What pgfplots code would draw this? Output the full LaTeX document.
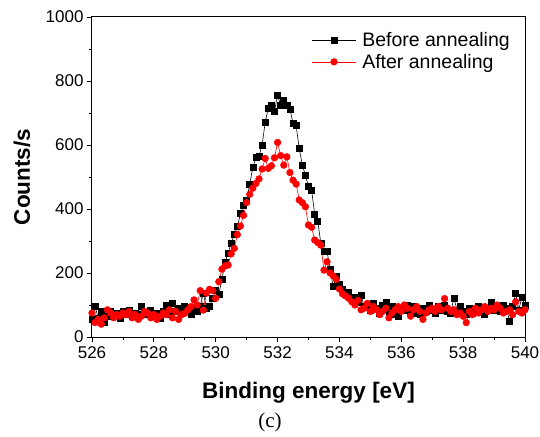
\documentclass[border=0pt]{standalone}
\usepackage{pgfplots}
\pgfplotsset{compat=1.18}
\usepackage{pgfplotstable}
\usepackage{fontspec}
\setmainfont{Liberation Sans}
\newfontfamily\serif{Liberation Serif}
\definecolor{dotred}{HTML}{FF0000}

% XPS O1s counts, before annealing
\pgfplotstableread{
E C
526.0 55
526.1 95
526.2 60
526.3 80
526.4 45
526.5 65
526.6 80
526.7 70
526.8 75
526.9 60
527.0 80
527.1 70
527.2 85
527.3 65
527.4 75
527.5 70
527.6 95
527.7 75
527.8 70
527.9 85
528.0 65
528.1 75
528.2 60
528.3 80
528.4 100
528.5 70
528.6 105
528.7 80
528.8 90
528.9 75
529.0 95
529.1 85
529.2 70
529.3 90
529.4 80
529.5 97
529.6 137
529.7 90
529.8 95
529.9 120
530.0 145
530.1 134
530.2 180
530.3 232
530.4 263
530.5 293
530.6 320
530.7 345
530.8 385
530.9 410
531.0 428
531.1 477
531.2 530
531.3 560
531.4 566
531.5 600
531.6 671
531.7 715
531.8 723
531.9 706
532.0 756
532.1 723
532.2 740
532.3 723
532.4 712
532.5 668
532.6 660
532.7 590
532.8 537
532.9 506
533.0 470
533.1 459
533.2 384
533.3 360
533.4 293
533.5 267
533.6 267
533.7 211
533.8 157
533.9 191
534.0 165
534.1 150
534.2 135
534.3 140
534.4 120
534.5 125
534.6 110
534.7 130
534.8 95
534.9 100
535.0 85
535.1 105
535.2 90
535.3 75
535.4 100
535.5 110
535.6 80
535.7 95
535.8 70
535.9 65
536.0 90
536.1 85
536.2 100
536.3 80
536.4 95
536.5 75
536.6 70
536.7 90
536.8 80
536.9 100
537.0 85
537.1 75
537.2 95
537.3 85
537.4 100
537.5 80
537.6 75
537.7 122
537.8 85
537.9 95
538.0 80
538.1 70
538.2 90
538.3 75
538.4 85
538.5 95
538.6 80
538.7 70
538.8 90
538.9 110
539.0 85
539.1 95
539.2 80
539.3 100
539.4 90
539.5 50
539.6 95
539.7 137
539.8 85
539.9 125
540.0 100
}\before

% after annealing
\pgfplotstableread{
E C
526.0 75
526.1 45
526.2 55
526.3 40
526.4 60
526.5 85
526.6 75
526.7 60
526.8 70
526.9 65
527.0 75
527.1 70
527.2 80
527.3 60
527.4 70
527.5 55
527.6 65
527.7 80
527.8 75
527.9 60
528.0 70
528.1 55
528.2 65
528.3 75
528.4 70
528.5 85
528.6 60
528.7 80
528.8 55
528.9 70
529.0 74
529.1 85
529.2 95
529.3 116
529.4 100
529.5 145
529.6 84
529.7 137
529.8 149
529.9 145
530.0 121
530.1 173
530.2 212
530.3 222
530.4 225
530.5 260
530.6 277
530.7 320
530.8 347
530.9 380
531.0 420
531.1 446
531.2 465
531.3 480
531.4 494
531.5 525
531.6 558
531.7 527
531.8 535
531.9 560
532.0 608
532.1 567
532.2 537
532.3 563
532.4 514
532.5 490
532.6 478
532.7 428
532.8 420
532.9 407
533.0 350
533.1 343
533.2 303
533.3 295
533.4 287
533.5 209
533.6 235
533.7 200
533.8 191
533.9 180
534.0 150
534.1 135
534.2 128
534.3 121
534.4 110
534.5 100
534.6 115
534.7 85
534.8 90
534.9 105
535.0 80
535.1 95
535.2 85
535.3 70
535.4 80
535.5 90
535.6 60
535.7 75
535.8 85
535.9 95
536.0 80
536.1 100
536.2 90
536.3 65
536.4 85
536.5 95
536.6 80
536.7 55
536.8 75
536.9 85
537.0 90
537.1 80
537.2 95
537.3 85
537.4 120
537.5 90
537.6 80
537.7 85
537.8 70
537.9 75
538.0 65
538.1 45
538.2 80
538.3 70
538.4 90
538.5 75
538.6 85
538.7 95
538.8 80
538.9 90
539.0 85
539.1 100
539.2 90
539.3 75
539.4 80
539.5 85
539.6 70
539.7 110
539.8 80
539.9 75
540.0 85
}\after

\begin{document}
\begin{tikzpicture}
\begin{axis}[
  scale only axis, width=433pt, height=320pt,
  xmin=526, xmax=540, ymin=0, ymax=1000,
  xtick={526,528,...,540}, ytick={0,200,...,1000},
  minor x tick num=1, minor y tick num=1,
  tick align=outside, tick pos=left,
  major tick length=5pt, minor tick length=3pt,
  every tick/.style={black, line width=0.8pt},
  axis line style={line width=1pt},
  /pgf/number format/assume math mode=true,
  /pgf/number format/1000 sep={},
  ticklabel style={font=\fontsize{17}{19}\selectfont},
  xticklabel style={yshift=-1pt},
  every axis x label/.style={at={(axis description cs:0.5,0)}, yshift=-56pt, anchor=center},
  every axis y label/.style={at={(axis description cs:0,0.5)}, xshift=-70pt, rotate=90, anchor=center},
  label style={font=\fontsize{22.5}{25}\selectfont\bfseries},
  xlabel={Binding energy [eV]}, ylabel={Counts/s},
  legend style={draw=none, fill=none, at={(axis description cs:0.5,0.965)}, anchor=north west,
                font=\fontsize{19.5}{21}\selectfont, row sep=2pt},
  legend cell align=left,
  legend image code/.code={\draw[mark repeat=2,mark phase=2] plot coordinates {(0pt,0pt)(22pt,0pt)(44pt,0pt)};},
]
\addplot[black, line width=0.6pt, mark=square*, mark size=3pt] table[x=E, y=C] {\before};
\addplot[dotred, line width=0.6pt, mark=*, mark size=3.3pt] table[x=E, y=C] {\after};
\legend{\hspace{4pt}Before annealing, \hspace{4pt}After annealing}
\end{axis}
\node[font=\serif\fontsize{21}{23}\selectfont] at (178pt,-85pt) {(c)};
\pgfresetboundingbox
\path[use as bounding box] (-92pt,-99pt) rectangle (448pt,337pt);
\end{tikzpicture}
\end{document}
